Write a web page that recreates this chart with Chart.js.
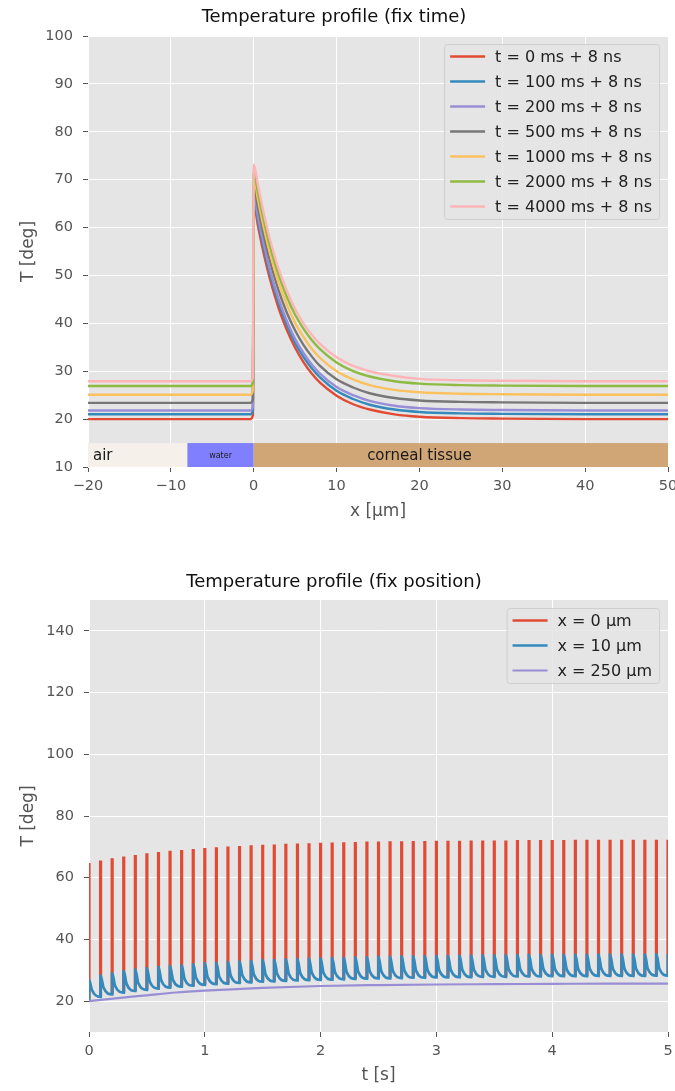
<!DOCTYPE html>
<html>
<head>
<meta charset="utf-8">
<script src="https://cdn.jsdelivr.net/npm/chart.js@4.4.1/dist/chart.umd.min.js"></script>
<style>
    html, body { margin: 0; padding: 0; background: #fff; }
    #wrap { position: relative; width: 675px; height: 1091px; }
    canvas { position: absolute; left: 0; }
    #profileChart { top: 0; }
    #pulseChart { top: 545px; }
</style>
</head>
<body>
<div id="wrap">
    <canvas id="profileChart" width="675" height="540"></canvas>
    <canvas id="pulseChart" width="675" height="546"></canvas>
</div>
<script>
// ---- Temperature profile (fix time): T vs depth x [µm] ----
const profileX = [-20, -10, -0.4, -0.1, 0, 0.5, 1, 1.5, 2, 3, 4, 5, 6, 7, 8, 10, 12, 14, 17, 20, 25, 30, 40, 50];
const profileLabels = [
    't = 0 ms + 8 ns', 't = 100 ms + 8 ns', 't = 200 ms + 8 ns', 't = 500 ms + 8 ns',
    't = 1000 ms + 8 ns', 't = 2000 ms + 8 ns', 't = 4000 ms + 8 ns'
];
const temp0ms    = [20.0, 20.0, 20.0, 20.8, 65.0, 60.5, 56.2, 52.4, 49.0, 43.2, 38.6, 34.9, 31.9, 29.5, 27.6, 24.9, 23.1, 22.0, 21.0, 20.5, 20.2, 20.1, 20.0, 20.0];
const temp100ms  = [21.0, 21.0, 21.0, 21.8, 66.0, 61.6, 57.4, 53.6, 50.1, 44.3, 39.7, 35.9, 33.0, 30.6, 28.7, 25.9, 24.2, 23.0, 22.0, 21.5, 21.2, 21.1, 21.0, 21.0];
const temp200ms  = [21.8, 21.8, 21.8, 22.6, 66.8, 62.4, 58.2, 54.4, 50.9, 45.1, 40.5, 36.7, 33.8, 31.4, 29.5, 26.7, 25.0, 23.8, 22.8, 22.3, 22.0, 21.9, 21.8, 21.8];
const temp500ms  = [23.4, 23.4, 23.4, 24.2, 68.7, 64.4, 60.1, 56.2, 52.8, 46.9, 42.2, 38.5, 35.5, 33.1, 31.1, 28.3, 26.6, 25.4, 24.4, 23.9, 23.6, 23.5, 23.4, 23.4];
const temp1000ms = [25.1, 25.1, 25.1, 25.9, 70.4, 66.0, 61.7, 57.9, 54.4, 48.5, 43.9, 40.1, 37.2, 34.7, 32.8, 30.0, 28.3, 27.1, 26.1, 25.6, 25.3, 25.2, 25.1, 25.1];
const temp2000ms = [26.9, 26.9, 26.9, 27.7, 71.8, 67.4, 63.2, 59.4, 55.9, 50.1, 45.5, 41.8, 38.9, 36.5, 34.6, 31.8, 30.0, 28.9, 27.9, 27.4, 27.1, 27.0, 26.9, 26.9];
const temp4000ms = [27.9, 27.9, 27.9, 28.7, 73.2, 69.0, 64.7, 60.8, 57.3, 51.4, 46.8, 43.0, 40.0, 37.6, 35.7, 32.9, 31.1, 30.0, 29.0, 28.4, 28.1, 28.0, 27.9, 27.9];

// material layers drawn along the bottom of the profile plot
const layerNames = ['air', 'water', 'corneal tissue'];
const layerStart = [-20, -8, 0];
const layerEnd = [-8, 0, 50];
const layerLow = 10;
const layerHigh = 15;

// ---- Temperature profile (fix position): T vs time t [s] ----
const pulseTimes = [
    0.0, 0.1, 0.2, 0.3, 0.4, 0.5, 0.6, 0.7, 0.8, 0.9,
    1.0, 1.1, 1.2, 1.3, 1.4, 1.5, 1.6, 1.7, 1.8, 1.9,
    2.0, 2.1, 2.2, 2.3, 2.4, 2.5, 2.6, 2.7, 2.8, 2.9,
    3.0, 3.1, 3.2, 3.3, 3.4, 3.5, 3.6, 3.7, 3.8, 3.9,
    4.0, 4.1, 4.2, 4.3, 4.4, 4.5, 4.6, 4.7, 4.8, 4.9, 5.0
];
// x = 0 µm: peak of each pulse
const surfacePeak = [
    64.8, 65.6, 66.3, 66.9, 67.4, 67.9, 68.3, 68.7, 69.0, 69.3,
    69.6, 69.9, 70.1, 70.3, 70.5, 70.7, 70.8, 71.0, 71.1, 71.2,
    71.3, 71.4, 71.5, 71.6, 71.7, 71.7, 71.8, 71.8, 71.9, 71.9,
    72.0, 72.0, 72.0, 72.1, 72.1, 72.1, 72.1, 72.2, 72.2, 72.2,
    72.2, 72.2, 72.3, 72.3, 72.3, 72.3, 72.3, 72.3, 72.3, 72.3, 72.3
];
// x = 10 µm: value just before each pulse, peak of the pulse, value shortly after
const depthTrough = [
    20.0, 21.4, 22.2, 22.8, 23.3, 23.7, 24.1, 24.4, 24.7, 25.0,
    25.3, 25.5, 25.7, 25.9, 26.1, 26.3, 26.4, 26.6, 26.7, 26.8,
    26.9, 27.0, 27.1, 27.2, 27.3, 27.4, 27.4, 27.5, 27.6, 27.6,
    27.7, 27.7, 27.8, 27.8, 27.9, 27.9, 27.9, 28.0, 28.0, 28.0,
    28.1, 28.1, 28.1, 28.1, 28.2, 28.2, 28.2, 28.2, 28.2, 28.3, 28.3
];
const depthPeak = [
    27.0, 28.3, 29.1, 29.7, 30.2, 30.6, 31.0, 31.3, 31.6, 31.9,
    32.2, 32.4, 32.6, 32.8, 33.0, 33.2, 33.3, 33.5, 33.6, 33.7,
    33.8, 33.9, 34.0, 34.1, 34.2, 34.3, 34.3, 34.4, 34.5, 34.5,
    34.6, 34.6, 34.7, 34.7, 34.8, 34.8, 34.8, 34.9, 34.9, 34.9,
    35.0, 35.0, 35.0, 35.0, 35.1, 35.1, 35.1, 35.1, 35.1, 35.2, 35.2
];
const depthAfter = [
    23.6, 24.4, 25.0, 25.5, 25.9, 26.3, 26.6, 26.9, 27.2, 27.5,
    27.7, 27.9, 28.1, 28.3, 28.5, 28.6, 28.8, 28.9, 29.0, 29.1,
    29.2, 29.3, 29.4, 29.5, 29.6, 29.6, 29.7, 29.8, 29.8, 29.9,
    29.9, 30.0, 30.0, 30.1, 30.1, 30.1, 30.2, 30.2, 30.2, 30.3,
    30.3, 30.3, 30.3, 30.4, 30.4, 30.4, 30.4, 30.4, 30.5, 30.5
];
const afterDelay = 0.025;
// x = 250 µm: slow rise
const deepTimes = [0, 0.25, 0.5, 0.75, 1, 1.5, 2, 2.5, 3, 3.5, 4, 4.5, 5];
const deepTemp = [20.0, 21.0, 21.9, 22.8, 23.4, 24.3, 24.9, 25.2, 25.4, 25.5, 25.6, 25.7, 25.7];
const pulseYTicks = [20, 40, 60, 80, 100, 120, 140];

const FONT = "'DejaVu Sans', sans-serif";
Chart.defaults.font.family = FONT;
Chart.defaults.color = '#555555';

// grey plotting area like the ggplot style
const plotBackground = {
    id: 'plotBackground',
    beforeDraw(chart) {
        const { ctx, chartArea: a } = chart;
        ctx.save();
        ctx.fillStyle = '#E5E5E5';
        ctx.fillRect(a.left, a.top, a.right - a.left, a.bottom - a.top);
        ctx.restore();
    }
};

const tissueLayers = {
    id: 'tissueLayers',
    beforeDatasetsDraw(chart, args, opts) {
        if (!opts.show) return;
        const { ctx, scales: { x, y } } = chart;
        const top = y.getPixelForValue(layerHigh);
        const bottom = y.getPixelForValue(layerLow);
        ctx.save();
        layerNames.forEach((name, i) => {
            const left = x.getPixelForValue(layerStart[i]);
            const right = x.getPixelForValue(layerEnd[i]);
            ctx.fillStyle = opts.colors[i];
            ctx.fillRect(left, top, right - left, bottom - top);
            ctx.fillStyle = '#1a1a1a';
            ctx.font = opts.sizes[i] + 'px ' + FONT;
            ctx.textAlign = opts.align[i];
            ctx.textBaseline = 'middle';
            ctx.fillText(name, x.getPixelForValue(opts.textAt[i]), (top + bottom) / 2 + 1);
        });
        ctx.restore();
    }
};

// legend drawn inside the axes, upper right corner
const insideLegend = {
    id: 'insideLegend',
    afterDatasetsDraw(chart) {
        const { ctx, chartArea: a } = chart;
        const items = chart.data.datasets;
        ctx.save();
        ctx.font = '16px ' + FONT;
        const textW = Math.max(...items.map(d => ctx.measureText(d.label).width));
        const w = 51 + textW + 7;
        const h = items.length * 25;
        const left = a.right - 9 - w;
        const top = a.top + 8;
        ctx.fillStyle = 'rgba(229,229,229,0.85)';
        ctx.strokeStyle = 'rgba(204,204,204,0.9)';
        ctx.lineWidth = 1;
        ctx.beginPath();
        ctx.roundRect(left + 0.5, top + 0.5, w, h, 3);
        ctx.fill();
        ctx.stroke();
        items.forEach((d, i) => {
            const cy = top + 12.5 + i * 25;
            ctx.strokeStyle = d.borderColor;
            ctx.lineWidth = Math.min(d.borderWidth, 2.6);
            ctx.beginPath();
            ctx.moveTo(left + 6, cy);
            ctx.lineTo(left + 41, cy);
            ctx.stroke();
            ctx.fillStyle = '#222';
            ctx.textAlign = 'left';
            ctx.textBaseline = 'middle';
            ctx.fillText(d.label, left + 51, cy + 1);
        });
        ctx.restore();
    }
};

const minusTick = v => (v < 0 ? '\u2212' + Math.abs(v) : String(v));

function xAxis(min, max, title, height, titleBottom) {
    return {
        type: 'linear', min: min, max: max,
        ticks: { stepSize: min < 0 ? 10 : 1, callback: minusTick, color: '#555555', font: { size: 14.5 }, padding: 6, maxRotation: 0 },
        grid: { color: '#ffffff', lineWidth: 1, tickColor: '#555555', tickLength: 5 },
        border: { display: false },
        title: { display: true, text: title, color: '#555555', font: { size: 17 }, padding: { top: 0, bottom: titleBottom } },
        afterFit(scale) { scale.height = height; scale.paddingLeft = 0; scale.paddingRight = 0; }
    };
}

function yAxis(min, max, width) {
    return {
        min: min, max: max,
        ticks: { stepSize: 10, color: '#555555', font: { size: 14.5 }, padding: 10 },
        grid: { color: '#ffffff', lineWidth: 1, tickColor: '#555555', tickLength: 5 },
        border: { display: false },
        title: { display: true, text: 'T [deg]', color: '#555555', font: { size: 17 }, padding: { top: 18, bottom: 0 } },
        afterFit(scale) { scale.width = width; scale.paddingTop = 0; scale.paddingBottom = 0; }
    };
}

function baseOptions(titleText, titlePad) {
    return {
        responsive: false,
        animation: false,
        devicePixelRatio: 1,
        layout: { padding: { left: 0, right: 7, top: 0, bottom: 0 } },
        elements: { point: { radius: 0 } },
        plugins: {
            legend: { display: false },
            tooltip: { enabled: false },
            title: {
                display: true, text: titleText, color: '#111111',
                font: { size: 18, weight: 'normal' }, padding: titlePad
            }
        }
    };
}

// top chart
const profileSeries = [temp0ms, temp100ms, temp200ms, temp500ms, temp1000ms, temp2000ms, temp4000ms];
const profileColors = ['#E24A33', '#348ABD', '#988ED5', '#777777', '#FBC15E', '#8EBA42', '#FFB5B8'];

const profileOptions = baseOptions('Temperature profile (fix time)', { top: 7, bottom: 7.4 });
profileOptions.scales = { x: xAxis(-20, 50, 'x [µm]', 73, 17.8), y: yAxis(10, 100, 88) };
profileOptions.plugins.tissueLayers = {
    show: true,
    colors: ['#F5F0EA', '#8080FF', '#D1A677'],
    sizes: [15, 8, 15],
    align: ['left', 'center', 'center'],
    textAt: [-19.4, -4, 20]
};

new Chart(document.getElementById('profileChart'), {
    type: 'line',
    data: {
        datasets: profileSeries.map((vals, i) => ({
            label: profileLabels[i],
            data: profileX.map((x, k) => ({ x: x, y: vals[k] })),
            borderColor: profileColors[i],
            borderWidth: 2.4,
            cubicInterpolationMode: 'monotone',
            order: profileSeries.length - i
        }))
    },
    options: profileOptions,
    plugins: [plotBackground, tissueLayers, insideLegend]
});

// bottom chart
const surfacePoints = [];
const depthPoints = [];
pulseTimes.forEach((t, i) => {
    surfacePoints.push({ x: t, y: depthTrough[i] }, { x: t, y: surfacePeak[i] }, { x: t, y: null });
    depthPoints.push({ x: t, y: depthTrough[i] }, { x: t, y: depthPeak[i] });
    if (i < depthAfter.length) depthPoints.push({ x: t + afterDelay, y: depthAfter[i] });
});
const deepPoints = deepTimes.map((t, k) => ({ x: t, y: deepTemp[k] }));

const pulseOptions = baseOptions('Temperature profile (fix position)', { top: 26.5, bottom: 6.9 });
pulseOptions.scales = { x: xAxis(0, 5, 't [s]', 59, 4.8), y: yAxis(10, 150, 89) };
pulseOptions.scales.y.afterBuildTicks = scale => {
    scale.ticks = pulseYTicks.map(v => ({ value: v }));
};

new Chart(document.getElementById('pulseChart'), {
    type: 'line',
    data: {
        datasets: [
            { label: 'x = 0 µm', data: surfacePoints, borderColor: '#E24A33', borderWidth: 3.2, cubicInterpolationMode: 'monotone', borderCapStyle: 'butt', order: 3 },
            { label: 'x = 10 µm', data: depthPoints, borderColor: '#348ABD', borderWidth: 2.8, cubicInterpolationMode: 'monotone', order: 2 },
            { label: 'x = 250 µm', data: deepPoints, borderColor: '#988ED5', borderWidth: 2.2, cubicInterpolationMode: 'monotone', order: 1 }
        ]
    },
    options: pulseOptions,
    plugins: [plotBackground, insideLegend]
});
</script>
</body>
</html>
